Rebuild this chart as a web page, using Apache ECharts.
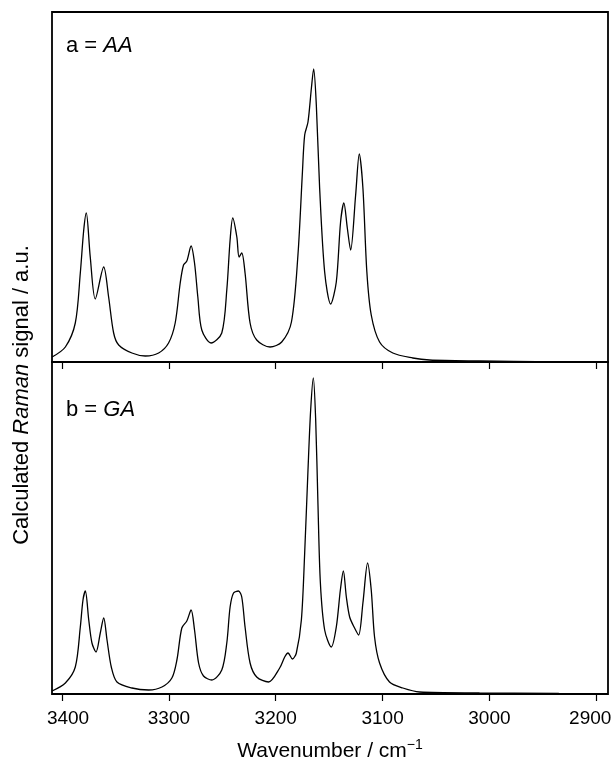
<!DOCTYPE html>
<html>
<head>
<meta charset="utf-8">
<script src="https://cdn.jsdelivr.net/npm/echarts@6/dist/echarts.min.js"></script>
<style>
html,body{margin:0;padding:0;background:#fff;}
#chart{width:613px;height:758px;}
</style>
</head>
<body>
<div id="chart"></div>
<script>
// Panel a = AA : wavenumber (cm-1) and calculated Raman signal (a.u.)
var wnA = [3409.3,3396.9,3387.6,3382.9,3379.7,3377.3,3373.6,3368.9,3361.0,3356.4,3351.7,3347.0,3334.6,3322.1,3309.6,3300.3,3294.1,3289.4,3286.3,3283.2,3279.2,3276.0,3272.9,3269.2,3260.5,3250.5,3245.8,3242.7,3240.2,3236.4,3234.3,3231.8,3228.7,3224.0,3217.8,3205.3,3194.4,3185.3,3179.2,3175.0,3172.9,3169.8,3166.6,3164.5,3162.0,3158.9,3154.2,3148.6,3143.3,3139.3,3136.2,3133.0,3129.9,3125.2,3121.8,3118.4,3114.7,3110.6,3102.8,3090.4,3071.7,3056.1,3009.3,2935.0];
var sigA = [0.05,0.15,0.39,0.89,1.32,1.49,1.05,0.63,0.95,0.65,0.29,0.17,0.09,0.06,0.09,0.19,0.39,0.79,0.97,1.01,1.16,0.99,0.65,0.32,0.19,0.29,0.72,1.22,1.44,1.25,1.05,1.09,0.89,0.39,0.22,0.15,0.20,0.40,1.07,1.90,2.27,2.40,2.74,2.93,2.57,1.74,0.90,0.58,0.80,1.40,1.59,1.34,1.12,1.67,2.08,1.74,0.90,0.47,0.20,0.09,0.04,0.02,0.01,0.00];
// Panel b = GA
var wnB = [3409.3,3396.9,3387.6,3382.9,3380.4,3378.2,3375.0,3372.0,3368.2,3364.2,3361.0,3357.9,3353.9,3348.6,3334.6,3319.0,3306.5,3297.2,3292.5,3287.9,3283.2,3279.2,3276.0,3272.2,3267.6,3259.8,3250.5,3245.8,3242.7,3239.5,3234.9,3231.8,3228.7,3224.0,3217.8,3206.8,3196.3,3191.6,3188.5,3184.4,3180.7,3176.0,3172.9,3169.8,3167.3,3164.8,3162.6,3160.5,3158.2,3154.2,3148.0,3143.3,3139.5,3136.7,3133.9,3130.8,3126.2,3122.4,3118.4,3114.0,3110.6,3107.5,3102.8,3093.5,3081.0,3065.4,3009.3,2935.0];
var sigB = [0.03,0.11,0.27,0.67,0.94,1.03,0.74,0.51,0.42,0.61,0.76,0.54,0.27,0.12,0.06,0.04,0.07,0.16,0.34,0.66,0.73,0.84,0.64,0.31,0.18,0.14,0.24,0.51,0.87,1.01,1.03,0.97,0.67,0.31,0.17,0.12,0.26,0.37,0.41,0.35,0.41,0.74,1.41,2.24,2.84,3.16,2.74,1.91,1.11,0.64,0.47,0.67,1.04,1.23,0.97,0.77,0.66,0.59,0.91,1.31,1.04,0.57,0.31,0.12,0.06,0.02,0.01,0.005];
var xTicks = [3400,3300,3200,3100,3000,2900];

function zip(x, y){ return x.map(function(v,i){ return [v, y[i]]; }); }

var FONT = 'Liberation Sans';
var chart = echarts.init(document.getElementById('chart'), null, {renderer:'canvas'});

function xAxisCfg(idx, showLabels){
  return {
    type:'value', gridIndex: idx, inverse:true, min:2889, max:3409.4,
    axisLine:{show:false},
    axisTick:{show:true, inside:false, length:7, lineStyle:{color:'#000', width:1.2}, customValues:xTicks},
    axisLabel:{show:showLabels, customValues:xTicks, color:'#000', fontFamily:FONT, fontSize:19, margin:15,
      formatter:function(v){
        var s = String(Math.round(v));
        if (s === String(xTicks[0])) return '{l|' + s + '}';
        if (s === String(xTicks[xTicks.length-1])) return '{r|' + s + '}';
        return s;
      },
      rich:{
        l:{fontFamily:FONT, fontSize:19, color:'#000', padding:[0,0,0,12]},
        r:{fontFamily:FONT, fontSize:19, color:'#000', padding:[0,12,0,0]}
      }},
    splitLine:{show:false},
    name: showLabels ? '{t|Wavenumber / cm}{s|−1}' : '',
    nameLocation:'middle', nameGap:44,
    nameTextStyle:{rich:{
      t:{fontFamily:FONT, fontSize:21, color:'#000', verticalAlign:'bottom', lineHeight:24},
      s:{fontFamily:FONT, fontSize:14, color:'#000', verticalAlign:'top', lineHeight:24}
    }}
  };
}
function yAxisCfg(idx, max){
  return {type:'value', gridIndex:idx, min:0, max:max,
    axisLine:{show:false}, axisTick:{show:false}, axisLabel:{show:false}, splitLine:{show:false}};
}

var option = {
  animation:false,
  backgroundColor:'#fff',
  grid:[
    {left:52, right:5, top:12, height:350, show:true, borderColor:'#000', borderWidth:1.8, backgroundColor:'transparent', containLabel:false, outerBoundsMode:'none'},
    {left:52, right:5, top:362, height:332, show:true, borderColor:'#000', borderWidth:1.8, backgroundColor:'transparent', containLabel:false, outerBoundsMode:'none'}
  ],
  xAxis:[xAxisCfg(0,false), xAxisCfg(1,true)],
  yAxis:[yAxisCfg(0,3.5), yAxisCfg(1,3.32)],
  series:[
    {type:'line', xAxisIndex:0, yAxisIndex:0, data:zip(wnA,sigA), showSymbol:false, smooth:0.3,
     lineStyle:{color:'#000', width:1.3}},
    {type:'line', xAxisIndex:1, yAxisIndex:1, data:zip(wnB,sigB), showSymbol:false, smooth:0.3,
     lineStyle:{color:'#000', width:1.3}}
  ],
  graphic:[
    {type:'text', left:66, top:35, style:{text:'a = {i|AA}', fontFamily:FONT, fontSize:22, fill:'#000',
      rich:{i:{fontFamily:FONT, fontSize:22, fontStyle:'italic', fill:'#000'}}}},
    {type:'text', left:66, top:399, style:{text:'b = {i|GA}', fontFamily:FONT, fontSize:22, fill:'#000',
      rich:{i:{fontFamily:FONT, fontSize:22, fontStyle:'italic', fill:'#000'}}}},
    {type:'text', x:22, y:395, rotation:Math.PI/2,
      style:{text:'Calculated {i|Raman} signal / a.u.', fontFamily:FONT, fontSize:22, fill:'#000',
        align:'center', verticalAlign:'middle',
        rich:{i:{fontFamily:FONT, fontSize:22, fontStyle:'italic', fill:'#000'}}}}
  ]
};
chart.setOption(option);
</script>
</body>
</html>
